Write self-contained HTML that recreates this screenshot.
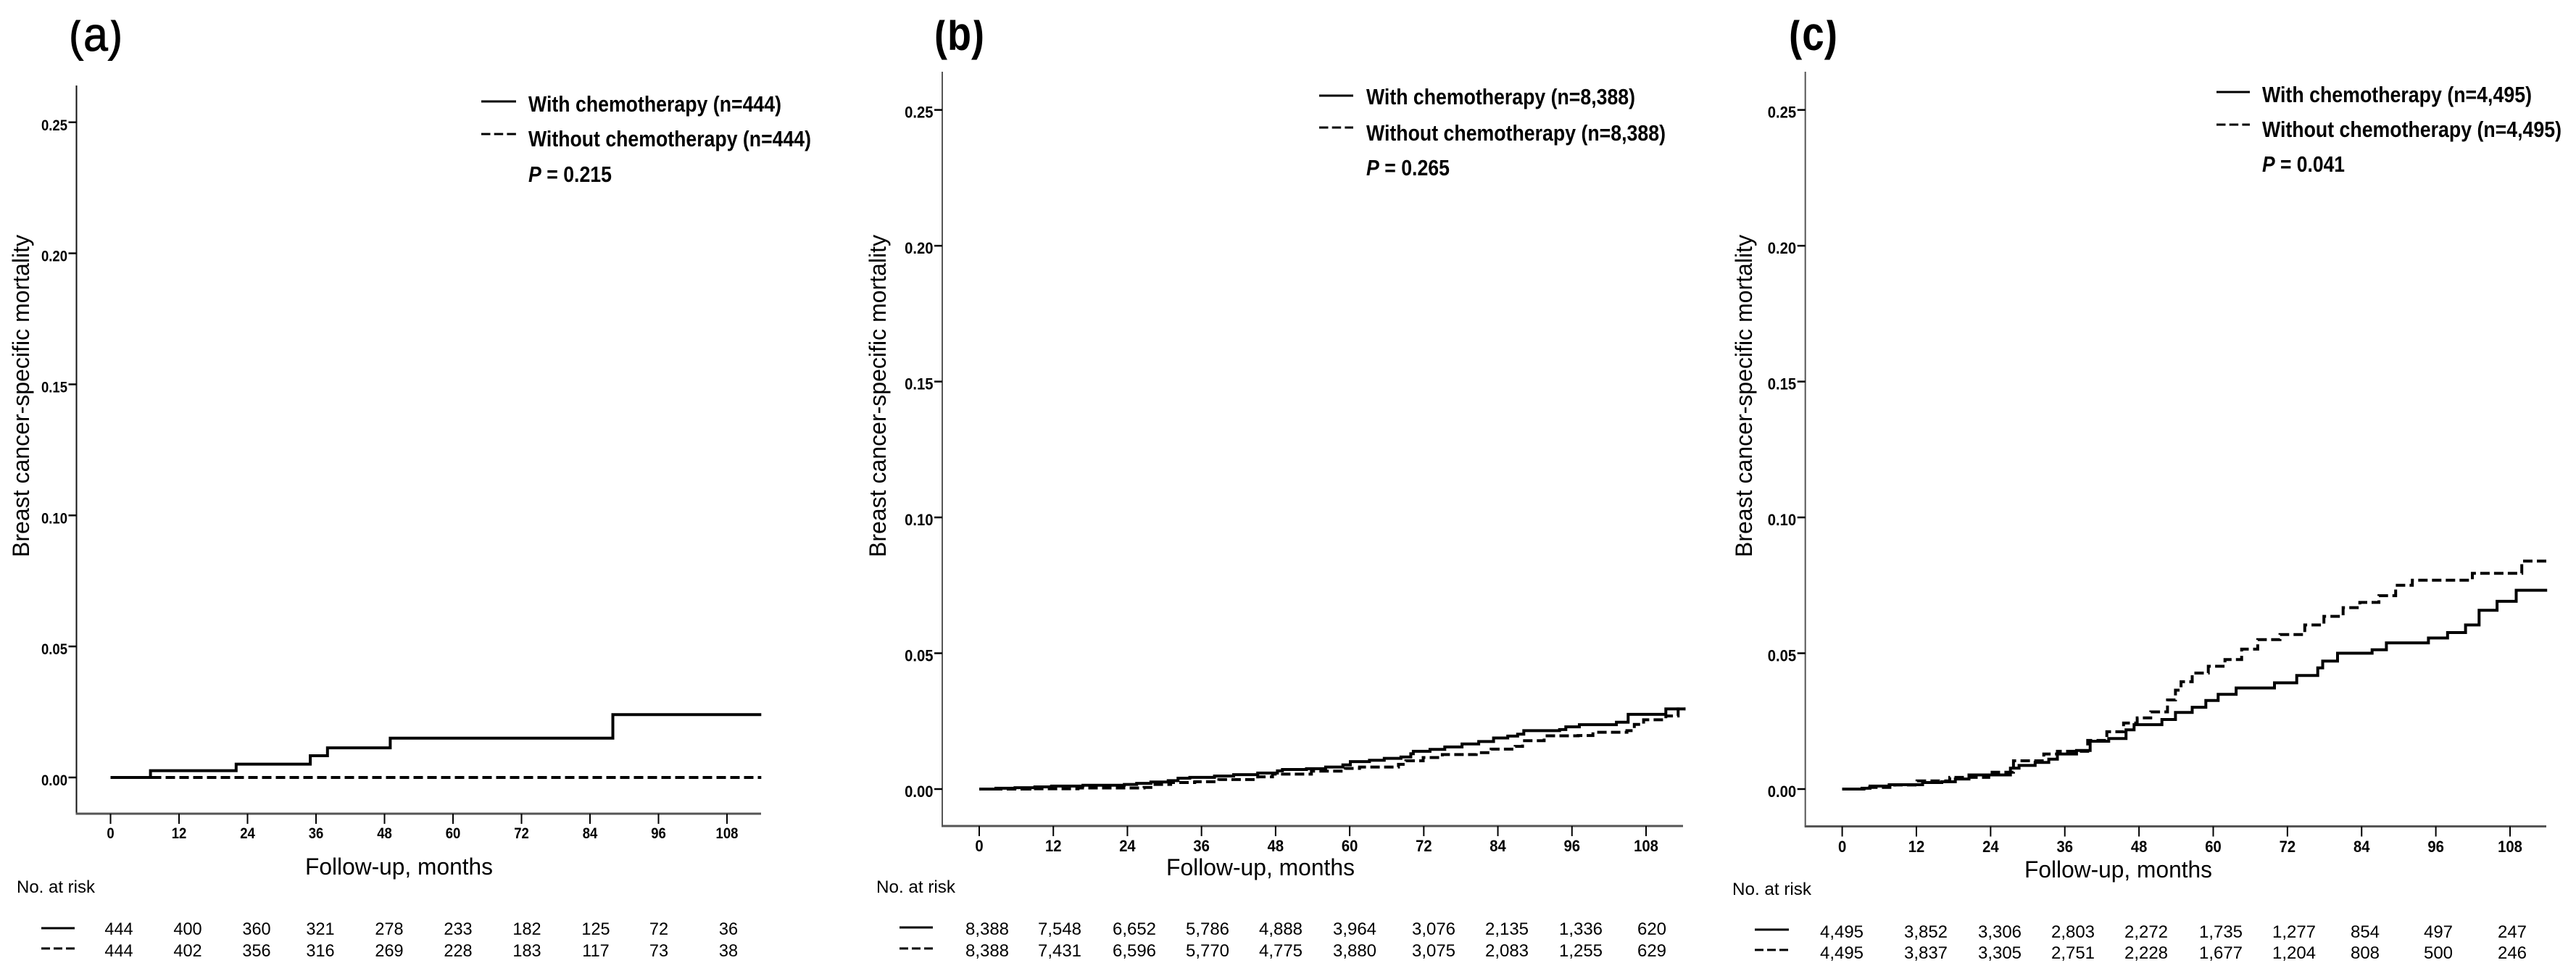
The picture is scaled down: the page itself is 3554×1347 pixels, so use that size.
<!DOCTYPE html>
<html lang="en">
<head>
<meta charset="utf-8">
<title>Breast cancer-specific mortality with and without chemotherapy</title>
<style>
html,body{margin:0;padding:0;background:#fff;}
svg{display:block;}
text{font-family:"Liberation Sans",sans-serif;fill:#000;}
.leg{font-size:31px;font-weight:bold;}
.title{font-size:32px;}
.risk-h{font-size:24px;}
</style>
</head>
<body>
<svg id="figure" width="3554" height="1347" viewBox="0 0 3554 1347" xmlns="http://www.w3.org/2000/svg">
<rect width="3554" height="1347" fill="#fff"/>

<g id="panel-a">
  <text x="95" y="70" font-size="66" textLength="74" lengthAdjust="spacingAndGlyphs" stroke="#000" stroke-width="1">(a)</text>
  <text class="title" transform="translate(40,769) rotate(-90)" x="0" y="0" textLength="445" lengthAdjust="spacingAndGlyphs">Breast cancer-specific mortality</text>
  <text class="title" x="421" y="1207" textLength="259" lengthAdjust="spacingAndGlyphs">Follow-up, months</text>
  <text class="risk-h" x="23" y="1232" textLength="108" lengthAdjust="spacingAndGlyphs">No. at risk</text>
  <line x1="664" x2="712" y1="140" y2="140" stroke="#000" stroke-width="3"/>
  <line x1="664" x2="712" y1="185" y2="185" stroke="#000" stroke-width="3" stroke-dasharray="12.5 5.2"/>
  <text class="leg" x="729" y="154" textLength="349" lengthAdjust="spacingAndGlyphs">With chemotherapy (n=444)</text>
  <text class="leg" x="729" y="202" textLength="390" lengthAdjust="spacingAndGlyphs">Without chemotherapy (n=444)</text>
  <text class="leg" x="729" y="251" textLength="115" lengthAdjust="spacingAndGlyphs"><tspan font-style="italic">P</tspan> = 0.215</text>
  <line x1="57" x2="103" y1="1281" y2="1281" stroke="#000" stroke-width="3"/>
  <line x1="57" x2="103" y1="1309" y2="1309" stroke="#000" stroke-width="3" stroke-dasharray="12 5"/>
</g>

<g id="panel-b">
  <text x="1289" y="69" font-size="66" font-weight="bold" textLength="69" lengthAdjust="spacingAndGlyphs">(b)</text>
  <text class="title" transform="translate(1222,769) rotate(-90)" x="0" y="0" textLength="445" lengthAdjust="spacingAndGlyphs">Breast cancer-specific mortality</text>
  <text class="title" x="1609" y="1208" textLength="260" lengthAdjust="spacingAndGlyphs">Follow-up, months</text>
  <text class="risk-h" x="1209" y="1232" textLength="109" lengthAdjust="spacingAndGlyphs">No. at risk</text>
  <line x1="1820" x2="1867" y1="132" y2="132" stroke="#000" stroke-width="3"/>
  <line x1="1820" x2="1867" y1="176" y2="176" stroke="#000" stroke-width="3" stroke-dasharray="12.5 5.2"/>
  <text class="leg" x="1885" y="144" textLength="371" lengthAdjust="spacingAndGlyphs">With chemotherapy (n=8,388)</text>
  <text class="leg" x="1885" y="194" textLength="413" lengthAdjust="spacingAndGlyphs">Without chemotherapy (n=8,388)</text>
  <text class="leg" x="1885" y="242" textLength="115" lengthAdjust="spacingAndGlyphs"><tspan font-style="italic">P</tspan> = 0.265</text>
  <line x1="1241" x2="1287" y1="1280" y2="1280" stroke="#000" stroke-width="3"/>
  <line x1="1241" x2="1287" y1="1309" y2="1309" stroke="#000" stroke-width="3" stroke-dasharray="12 5"/>
</g>

<g id="panel-c">
  <text x="2468" y="69" font-size="66" font-weight="bold" textLength="67" lengthAdjust="spacingAndGlyphs">(c)</text>
  <text class="title" transform="translate(2417,769) rotate(-90)" x="0" y="0" textLength="445" lengthAdjust="spacingAndGlyphs">Breast cancer-specific mortality</text>
  <text class="title" x="2793" y="1211" textLength="259" lengthAdjust="spacingAndGlyphs">Follow-up, months</text>
  <text class="risk-h" x="2390" y="1235" textLength="109" lengthAdjust="spacingAndGlyphs">No. at risk</text>
  <line x1="3058" x2="3104" y1="127" y2="127" stroke="#000" stroke-width="3"/>
  <line x1="3058" x2="3104" y1="172" y2="172" stroke="#000" stroke-width="3" stroke-dasharray="12.5 5.2"/>
  <text class="leg" x="3121" y="141" textLength="372" lengthAdjust="spacingAndGlyphs">With chemotherapy (n=4,495)</text>
  <text class="leg" x="3121" y="189" textLength="413" lengthAdjust="spacingAndGlyphs">Without chemotherapy (n=4,495)</text>
  <text class="leg" x="3121" y="237" textLength="114" lengthAdjust="spacingAndGlyphs"><tspan font-style="italic">P</tspan> = 0.041</text>
  <line x1="2421" x2="2468" y1="1283" y2="1283" stroke="#000" stroke-width="3"/>
  <line x1="2421" x2="2468" y1="1311" y2="1311" stroke="#000" stroke-width="3" stroke-dasharray="12 5"/>
</g>
<rect x="0" y="0" width="3554" height="27.5" fill="#fff"/>
</svg>

<script>
// Shared axis tick labels
var monthTicks = [0, 12, 24, 36, 48, 60, 72, 84, 96, 108];
var mortalityTicks = ["0.00", "0.05", "0.10", "0.15", "0.20", "0.25"];

// Panel (a) curves
var aWithMonths = [0, 7, 22, 35, 38, 49, 88];
var aWithValues = [0, 0.0026, 0.0051, 0.0083, 0.0113, 0.015, 0.024];
var aWithoutMonths = [0];
var aWithoutValues = [0];
// Panel (a) numbers at risk
var aRiskWith = ["444", "400", "360", "321", "278", "233", "182", "125", "72", "36"];
var aRiskWithout = ["444", "402", "356", "316", "269", "228", "183", "117", "73", "38"];

// Panel (b) curves
var bWithMonths = [0, 2.7, 5.8, 9, 11.7, 16.8, 23.5, 25.5, 27.8, 30.6, 32.2, 34.1, 38.1, 41.2, 45.1, 48.3, 49.1, 53, 56.1, 58.9, 60.1, 63.2, 65.6, 68.3, 69.9, 70.3, 73, 75.4, 78.2, 80.9, 83.3, 85.6, 87.2, 88.2, 94, 95, 97.2, 103.2, 105.1, 111.2];
var bWithValues = [0, 0.0003, 0.0005, 0.0008, 0.0011, 0.0014, 0.0017, 0.0021, 0.0026, 0.0031, 0.004, 0.0043, 0.0048, 0.0053, 0.0059, 0.0067, 0.0072, 0.0075, 0.0081, 0.0089, 0.0101, 0.0106, 0.0113, 0.0118, 0.013, 0.0139, 0.0146, 0.0155, 0.0166, 0.0175, 0.0188, 0.0195, 0.0202, 0.0215, 0.0219, 0.0229, 0.0237, 0.0246, 0.0275, 0.0295];
var bWithoutMonths = [0, 8.2, 16, 26.7, 27.8, 31, 34.9, 38.8, 45.1, 47.5, 53.8, 59.3, 61.6, 67.9, 69.1, 71.9, 75, 80.5, 82.9, 86.8, 88, 91.5, 97, 99.4, 104.9, 106.1, 107.6, 111.2, 113.2];
var bWithoutValues = [0, 0.0001, 0.0004, 0.0006, 0.0017, 0.0024, 0.0027, 0.0035, 0.0045, 0.0055, 0.0066, 0.0076, 0.0081, 0.0091, 0.0104, 0.0116, 0.0127, 0.0134, 0.0147, 0.0157, 0.0178, 0.0196, 0.0197, 0.0209, 0.0215, 0.0238, 0.0255, 0.0269, 0.0295];
// Panel (b) numbers at risk
var bRiskWith = ["8,388", "7,548", "6,652", "5,786", "4,888", "3,964", "3,076", "2,135", "1,336", "620"];
var bRiskWithout = ["8,388", "7,431", "6,596", "5,770", "4,775", "3,880", "3,075", "2,083", "1,255", "629"];

// Panel (c) curves
var cWithMonths = [0, 3.2, 4.5, 7.6, 13, 16.1, 18.3, 20.5, 27.2, 28.6, 31.2, 33.4, 34.8, 37.9, 40.1, 43.1, 45.9, 47.2, 51.7, 53.9, 56.6, 58.8, 60.8, 63.7, 69.9, 73.5, 76.9, 77.7, 80.1, 85.7, 88, 94.8, 97.9, 100.8, 103, 105.9, 109];
var cWithValues = [0, 0.0003, 0.0011, 0.0016, 0.0024, 0.0027, 0.0037, 0.0052, 0.0077, 0.0087, 0.0098, 0.011, 0.0129, 0.0142, 0.0176, 0.0186, 0.0218, 0.0237, 0.0256, 0.0282, 0.0301, 0.0326, 0.0349, 0.0372, 0.0391, 0.0418, 0.0446, 0.0471, 0.05, 0.0513, 0.0538, 0.0556, 0.0576, 0.0604, 0.0658, 0.0691, 0.0732];
var cWithoutMonths = [0, 4.1, 8.5, 12.1, 17.4, 23.7, 27.7, 32.6, 34.8, 39.7, 42.8, 45.5, 47.7, 49.9, 52.6, 53.9, 54.8, 56.6, 59.2, 61.9, 64.6, 67.2, 70.8, 74.8, 77.9, 81, 83.7, 86.8, 89.5, 92.2, 101.9, 109.9];
var cWithoutValues = [0, 0.0006, 0.0015, 0.003, 0.0043, 0.0062, 0.0104, 0.0129, 0.0139, 0.0179, 0.0211, 0.0243, 0.0262, 0.0284, 0.0328, 0.0364, 0.0395, 0.0427, 0.0452, 0.0477, 0.0515, 0.055, 0.0569, 0.0604, 0.0636, 0.0668, 0.0687, 0.0712, 0.075, 0.0769, 0.0794, 0.0839];
// Panel (c) numbers at risk
var cRiskWith = ["4,495", "3,852", "3,306", "2,803", "2,272", "1,735", "1,277", "854", "497", "247"];
var cRiskWithout = ["4,495", "3,837", "3,305", "2,751", "2,228", "1,677", "1,204", "808", "500", "246"];

var SVGNS = "http://www.w3.org/2000/svg";

function makeScale(d0, d1, r0, r1) {
  return function (v) { return r0 + (v - d0) * (r1 - r0) / (d1 - d0); };
}

function addLine(parent, x1, y1, x2, y2, color, width) {
  var el = document.createElementNS(SVGNS, "line");
  el.setAttribute("x1", x1);
  el.setAttribute("y1", y1);
  el.setAttribute("x2", x2);
  el.setAttribute("y2", y2);
  el.setAttribute("stroke", color);
  el.setAttribute("stroke-width", width);
  parent.appendChild(el);
  return el;
}

function addText(parent, str, x, y, size, bold, anchor, squeeze) {
  var el = document.createElementNS(SVGNS, "text");
  el.setAttribute("x", x);
  el.setAttribute("y", y);
  el.setAttribute("font-size", size);
  if (bold) { el.setAttribute("font-weight", "bold"); }
  el.setAttribute("text-anchor", anchor);
  el.textContent = str;
  parent.appendChild(el);
  if (squeeze !== 1) {
    el.setAttribute("textLength", (el.getComputedTextLength() * squeeze).toFixed(1));
    el.setAttribute("lengthAdjust", "spacingAndGlyphs");
  }
  return el;
}

function stepPath(months, values, endMonth, sx, sy) {
  var d = "M" + sx(months[0]).toFixed(1) + " " + sy(values[0]).toFixed(1);
  for (var i = 1; i < months.length; i++) {
    d += "H" + sx(months[i]).toFixed(1) + "V" + sy(values[i]).toFixed(1);
  }
  return d + "H" + sx(endMonth).toFixed(1);
}

function addCurve(parent, months, values, endMonth, sx, sy, dashed) {
  var el = document.createElementNS(SVGNS, "path");
  el.setAttribute("d", stepPath(months, values, endMonth, sx, sy));
  el.setAttribute("fill", "none");
  el.setAttribute("stroke", "#000");
  el.setAttribute("stroke-width", "4");
  if (dashed) { el.setAttribute("stroke-dasharray", "13 6"); }
  parent.appendChild(el);
  return el;
}

function drawPanel(p) {
  var g = document.getElementById("panel-" + p.id);
  var sx = makeScale(0, 108, p.x0, p.x108);
  var sy = makeScale(0, 0.25, p.y0, p.y25);

  var yAxis = addLine(g, p.axisX, p.axisTop, p.axisX, p.axisY, p.yAxisColor, 2);
  
  

  var xAxis = addLine(g, p.axisX - 1, p.axisY, p.axisRight, p.axisY, "#555", 3);
  
  

  mortalityTicks.forEach(function (label) {
    var v = parseFloat(label);
    var tick = addLine(g, p.axisX - 11, sy(v), p.axisX, sy(v), "#000", 2.5);
    
    
    var tickLabel = addText(g, label, p.axisX - 12.5, sy(v) + 11, p.tickSize, true, "end", p.tickSqueeze);
    
    
  });

  monthTicks.forEach(function (m, i) {
    var tick = addLine(g, sx(m), p.axisY, sx(m), p.axisY + 14, "#000", 2);
    
    
    var tickLabel = addText(g, String(m), sx(m), p.xLabelY, p.tickSize, true, "middle", p.tickSqueeze);
    
    
    var r1 = addText(g, p.riskWith[i], p.riskX[i], p.riskY1, 24, false, "middle", p.riskSqueeze);
    
    
    var r2 = addText(g, p.riskWithout[i], p.riskX[i], p.riskY2, 24, false, "middle", p.riskSqueeze);
    
    
  });

  var solid = addCurve(g, p.withMonths, p.withValues, p.endMonth, sx, sy, false);
  
  

  var dashed = addCurve(g, p.withoutMonths, p.withoutValues, p.endMonth, sx, sy, true);
  
  
}

drawPanel({
  id: "a", x0: 152.5, x108: 1003, y0: 1073, y25: 168.75,
  axisX: 105.5, axisTop: 118, axisY: 1123, axisRight: 1050, yAxisColor: "#111",
  tickSize: 21.5, tickSqueeze: 0.86, xLabelY: 1157,
  riskX: [164, 259, 354, 442, 537, 632, 727, 822, 909, 1005],
  riskY1: 1290, riskY2: 1320, riskSqueeze: 0.98, endMonth: 114,
  withMonths: aWithMonths, withValues: aWithValues,
  withoutMonths: aWithoutMonths, withoutValues: aWithoutValues,
  riskWith: aRiskWith, riskWithout: aRiskWithout
});

drawPanel({
  id: "b", x0: 1351, x108: 2271, y0: 1089, y25: 151.7,
  axisX: 1300, axisTop: 99, axisY: 1140, axisRight: 2322, yAxisColor: "#555",
  tickSize: 22.5, tickSqueeze: 0.9, xLabelY: 1175,
  riskX: [1362, 1462, 1565, 1666, 1767, 1869, 1978, 2079, 2181, 2279],
  riskY1: 1290, riskY2: 1320, riskSqueeze: 1, endMonth: 114.4,
  withMonths: bWithMonths, withValues: bWithValues,
  withoutMonths: bWithoutMonths, withoutValues: bWithoutValues,
  riskWith: bRiskWith, riskWithout: bRiskWithout
});

drawPanel({
  id: "c", x0: 2541.6, x108: 3463, y0: 1089, y25: 151.7,
  axisX: 2490.7, axisTop: 99, axisY: 1140.5, axisRight: 3513, yAxisColor: "#555",
  tickSize: 22.5, tickSqueeze: 0.9, xLabelY: 1176,
  riskX: [2541, 2657, 2759, 2860, 2961, 3064, 3165, 3263, 3364, 3466],
  riskY1: 1294, riskY2: 1323, riskSqueeze: 1, endMonth: 114,
  withMonths: cWithMonths, withValues: cWithValues,
  withoutMonths: cWithoutMonths, withoutValues: cWithoutValues,
  riskWith: cRiskWith, riskWithout: cRiskWithout
});
</script>
</body>
</html>
